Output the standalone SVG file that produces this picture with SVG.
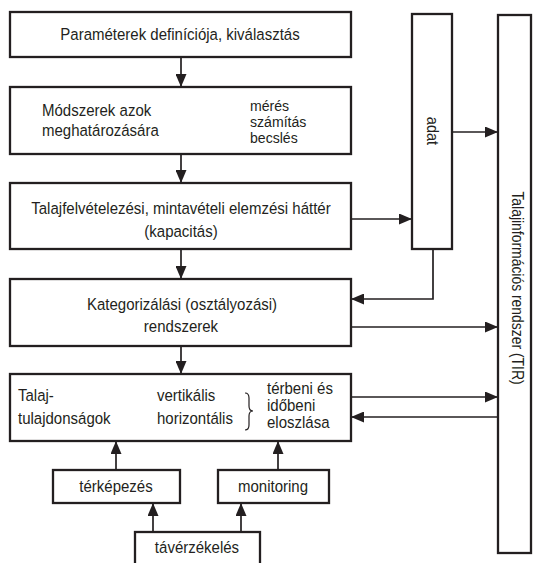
<svg xmlns="http://www.w3.org/2000/svg" width="533" height="563" viewBox="0 0 533 563">
<defs>
<style>
.box{fill:#fff;stroke:#231f20;stroke-width:2.3}
.ln{fill:none;stroke:#231f20;stroke-width:1.7}
.t{font-family:"Liberation Sans",Arial,sans-serif;font-size:16.5px;fill:#231f20;transform-box:fill-box;transform-origin:left center;transform:scaleX(0.91)}
.c{text-anchor:middle;transform-origin:center}
.s{font-size:15.5px}
.r{font-family:"Liberation Sans",Arial,sans-serif;font-size:16px;fill:#231f20;text-anchor:middle}
</style>
<marker id="ah" viewBox="0 0 13 11" refX="13" refY="5.5" markerWidth="13" markerHeight="11" markerUnits="userSpaceOnUse" orient="auto">
<path d="M0,0 L13,5.5 L0,11 Z" fill="#231f20"/>
</marker>
</defs>
<rect width="533" height="563" fill="#fff"/>
<g id="connectors">
<line class="ln" x1="181" y1="57" x2="181" y2="87" marker-end="url(#ah)"/>
<line class="ln" x1="181" y1="154" x2="181" y2="183" marker-end="url(#ah)"/>
<line class="ln" x1="181" y1="249" x2="181" y2="279" marker-end="url(#ah)"/>
<line class="ln" x1="181" y1="346" x2="181" y2="374" marker-end="url(#ah)"/>
<line class="ln" x1="351" y1="219" x2="412" y2="219" marker-end="url(#ah)"/>
<line class="ln" x1="452" y1="132" x2="498" y2="132" marker-end="url(#ah)"/>
<polyline class="ln" points="433,249 433,299 351,299" marker-end="url(#ah)"/>
<line class="ln" x1="351" y1="327" x2="498" y2="327" marker-end="url(#ah)"/>
<line class="ln" x1="351" y1="397" x2="498" y2="397" marker-end="url(#ah)"/>
<line class="ln" x1="498" y1="417" x2="351" y2="417" marker-end="url(#ah)"/>
<line class="ln" x1="116" y1="470" x2="116" y2="441" marker-end="url(#ah)"/>
<line class="ln" x1="278" y1="470" x2="278" y2="441" marker-end="url(#ah)"/>
<line class="ln" x1="153" y1="532" x2="153" y2="503" marker-end="url(#ah)"/>
<line class="ln" x1="241" y1="532" x2="241" y2="503" marker-end="url(#ah)"/>
</g>
<g id="n1">
<rect class="box" x="10" y="12" width="341" height="45"/>
<text class="t c" x="180" y="40">Paraméterek definíciója, kiválasztás</text>
</g>
<g id="n2">
<rect class="box" x="10" y="87" width="341" height="67"/>
<text class="t" x="42" y="116">Módszerek azok</text>
<text class="t" x="42" y="136">meghatározására</text>
<text class="t s" x="250" y="111">mérés</text>
<text class="t s" x="250" y="127">számítás</text>
<text class="t s" x="250" y="143">becslés</text>
</g>
<g id="n3">
<rect class="box" x="10" y="183" width="341" height="66"/>
<text class="t c" x="181" y="214">Talajfelvételezési, mintavételi elemzési háttér</text>
<text class="t c" x="181" y="237">(kapacitás)</text>
</g>
<g id="n4">
<rect class="box" x="10" y="279" width="341" height="67"/>
<text class="t c" x="182" y="310">Kategorizálási (osztályozási)</text>
<text class="t c" x="181" y="332">rendszerek</text>
</g>
<g id="n5">
<rect class="box" x="10" y="374" width="341" height="67"/>
<text class="t" x="18" y="401">Talaj-</text>
<text class="t" x="18" y="424">tulajdonságok</text>
<text class="t" x="157" y="401">vertikális</text>
<text class="t" x="157" y="424">horizontális</text>
<path d="M245,393 Q249,393 249,398 L249,406 Q249,411 253,411 Q249,411 249,416 L249,425 Q249,430 245,430" fill="none" stroke="#231f20" stroke-width="1.2"/>
<text class="t" x="267" y="394">térbeni és</text>
<text class="t" x="267" y="411">időbeni</text>
<text class="t" x="267" y="428">eloszlása</text>
</g>
<g id="n6">
<rect class="box" x="53" y="470" width="127" height="33"/>
<text class="t c" x="116" y="492">térképezés</text>
</g>
<g id="n7">
<rect class="box" x="218" y="470" width="111" height="33"/>
<text class="t c" x="273" y="492">monitoring</text>
</g>
<g id="n8">
<rect class="box" x="135" y="532" width="125" height="45"/>
<text class="t c" x="197" y="553">távérzékelés</text>
</g>
<g id="n9">
<rect class="box" x="412" y="14" width="40" height="235"/>
<text class="r" transform="translate(427,131) rotate(90) scale(0.91,1)" x="0" y="0">adat</text>
</g>
<g id="n10">
<rect class="box" x="498" y="15" width="33" height="538"/>
<text class="r" transform="translate(512,288) rotate(90) scale(0.87,1)" x="0" y="0">Talajinformációs rendszer (TIR)</text>
</g>
</svg>
